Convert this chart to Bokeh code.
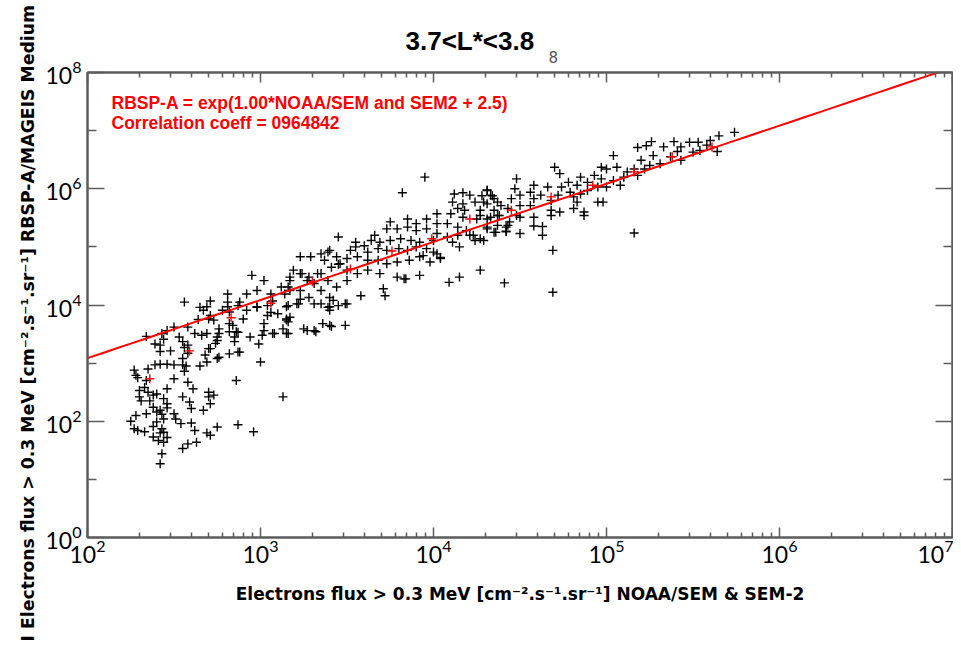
import numpy as np
from bokeh.plotting import figure
from bokeh.models import LogAxis, FixedTicker, Label, ColumnDataSource, CustomJSTickFormatter, Title
from bokeh.embed import file_html
from bokeh.resources import INLINE

# ---- data (log10 of the fluxes) ----
# low-flux tail
tail_lx = [2.34, 2.39, 2.43, 2.44, 2.42, 2.42, 2.48, 2.50, 2.55, 2.56,
           2.58, 2.55, 2.55, 2.57, 2.56, 2.50, 2.46, 2.42, 2.39, 2.35,
           2.27, 2.28, 2.34, 2.29, 2.33, 2.30, 2.35, 2.38, 2.40, 2.30,
           2.31, 2.36, 2.44, 2.46, 2.46, 2.42, 2.40, 2.43, 2.44, 2.40,
           2.38, 2.43, 2.44, 2.42, 2.46, 2.38, 2.41, 2.44, 2.43, 2.42,
           2.55, 2.58, 2.63, 2.71, 2.75, 2.87, 2.96, 2.58, 2.61, 2.55,
           2.59, 2.60, 2.54, 2.60, 2.70, 2.70, 2.73, 2.71, 2.67, 2.50,
           2.51, 2.25, 2.28, 2.34, 2.29, 2.33, 2.65, 2.69, 2.68, 2.71,
           2.75, 2.76, 2.82, 2.86, 2.85, 2.87, 2.82, 2.75, 2.76, 2.84,
           2.69, 2.64, 2.62, 2.71, 2.73, 2.86, 3.13, 3.00, 2.99, 3.01,
           3.08, 3.15, 3.15, 3.16, 3.27, 3.32, 3.36, 3.41, 3.49, 2.56,
           2.69, 2.81, 2.92, 2.98, 3.04, 3.10, 3.15, 3.22, 3.40, 3.50,
           2.62, 2.69, 2.27, 2.46, 2.50, 2.38]
tail_ly = [3.46, 3.33, 3.51, 3.41, 3.31, 3.20, 3.21, 3.62, 3.37, 3.27,
           3.17, 3.08, 2.97, 2.95, 2.86, 2.97, 2.98, 2.98, 2.97, 2.90,
           2.88, 2.79, 2.70, 2.75, 2.58, 2.53, 2.50, 2.45, 2.47, 2.42,
           2.35, 2.35, 2.39, 2.30, 2.23, 2.19, 2.16, 2.12, 2.04, 1.99,
           1.91, 1.87, 1.81, 1.80, 1.72, 1.73, 1.67, 1.64, 1.44, 1.27,
           1.53, 1.61, 1.64, 1.76, 1.90, 1.94, 1.82, 2.67, 2.56, 2.42,
           2.33, 2.22, 1.96, 1.97, 2.50, 2.42, 2.45, 2.30, 2.19, 2.13,
           2.04, 2.00, 2.10, 2.13, 1.84, 1.82, 2.95, 3.02, 3.14, 3.25,
           3.39, 3.51, 3.54, 3.54, 3.37, 3.19, 3.16, 3.08, 3.59, 3.65,
           3.51, 3.75, 3.51, 3.82, 3.74, 2.70, 2.42, 3.02, 3.33, 3.48,
           3.51, 3.51, 3.76, 3.71, 3.56, 3.54, 3.68, 3.63, 3.65, 4.05,
           3.97, 3.97, 3.91, 3.97, 3.82, 3.85, 3.97, 4.02, 3.97, 4.02,
           1.84, 1.80, 1.87, 2.56, 2.73, 2.24]

# band, 10^2.5 - 10^3.5
lowmid_lx = [3.23, 3.29, 3.35, 3.40, 3.45, 3.45, 3.24, 3.28, 3.35, 3.31,
             3.35, 3.40, 3.28, 3.23, 3.17, 3.12, 3.17, 3.02, 2.95, 2.92,
             2.98, 3.06, 3.07, 3.04, 3.06, 2.98, 2.88, 2.81, 2.81, 2.87,
             2.71, 2.67, 2.70, 2.78, 2.82, 2.87, 2.90, 2.94, 3.02, 3.02,
             3.07, 3.15, 3.17, 3.13, 3.25, 3.31, 3.40, 3.40, 3.45, 3.16,
             2.46, 2.58, 2.66, 2.58, 2.53, 2.75, 2.74, 2.70, 2.76, 2.88,
             2.85, 2.82, 2.65]
lowmid_ly = [4.83, 4.83, 4.88, 4.94, 5.17, 4.70, 4.54, 4.48, 4.54, 4.37,
             4.25, 4.13, 4.13, 4.10, 4.25, 4.31, 4.48, 4.42, 4.51, 4.19,
             4.25, 4.19, 4.07, 3.99, 3.87, 3.96, 4.05, 4.19, 4.05, 3.99,
             4.07, 3.91, 3.76, 3.91, 3.68, 3.53, 3.76, 3.45, 3.56, 3.68,
             3.51, 3.74, 3.79, 3.59, 3.59, 3.56, 3.65, 3.91, 3.99, 3.51,
             3.56, 3.62, 3.48, 3.31, 3.45, 3.45, 3.34, 3.25, 3.10, 3.19,
             3.45, 3.88, 3.96]

# band, 10^3.1 - 10^4.4
mid_lx = [3.95, 3.82, 4.12, 4.17, 4.21, 4.28, 4.31, 4.34, 4.11, 4.17,
          4.24, 4.31, 4.37, 4.14, 4.18, 4.27, 4.35, 4.10, 4.17, 4.25,
          4.33, 4.38, 4.02, 3.96, 4.02, 4.08, 4.14, 4.19, 4.31, 4.35,
          4.27, 4.23, 4.29, 3.90, 3.85, 3.75, 3.73, 3.79, 3.85, 3.90,
          3.96, 4.02, 4.08, 4.14, 4.00, 3.92, 3.87, 3.81, 3.75, 3.69,
          3.64, 3.66, 3.60, 3.55, 3.62, 3.68, 3.73, 3.80, 3.85, 3.90,
          3.96, 4.02, 4.04, 3.92, 3.86, 3.79, 3.73, 3.68, 3.62, 3.56,
          3.52, 3.50, 3.44, 3.46, 3.39, 3.37, 3.41, 3.55, 3.50, 3.56,
          3.62, 3.69, 3.79, 3.83, 3.92, 4.09, 4.15, 4.27, 3.71, 3.72,
          3.58, 3.50, 3.44, 3.39, 3.33, 3.27, 3.23, 3.19, 3.17, 3.16,
          3.14, 3.23, 3.35, 3.42, 3.49, 3.39, 3.31, 3.21, 3.16]
mid_ly = [6.20, 5.93, 5.91, 5.93, 5.89, 5.88, 5.98, 5.88, 5.77, 5.74,
          5.77, 5.74, 5.77, 5.66, 5.63, 5.63, 5.63, 5.57, 5.51, 5.48,
          5.51, 5.54, 5.57, 5.48, 5.40, 5.40, 5.34, 5.28, 5.34, 5.25,
          5.14, 5.20, 5.11, 5.40, 5.48, 5.43, 5.31, 5.31, 5.34, 5.28,
          5.31, 5.23, 5.17, 5.20, 5.11, 5.08, 5.11, 5.14, 5.11, 5.08,
          5.11, 5.20, 5.02, 5.08, 4.91, 4.97, 4.94, 4.97, 4.94, 5.00,
          4.97, 4.88, 4.80, 4.83, 4.77, 4.74, 4.71, 4.77, 4.77, 4.83,
          4.94, 4.80, 4.83, 4.71, 4.91, 4.77, 4.65, 5.00, 4.60, 4.54,
          4.60, 4.54, 4.48, 4.45, 4.51, 4.39, 4.48, 4.60, 4.28, 4.16,
          4.16, 4.42, 4.31, 4.42, 4.54, 4.42, 4.54, 4.60, 4.42, 4.31,
          4.19, 4.25, 4.02, 4.08, 4.02, 3.96, 4.02, 4.02, 3.99]

# points under the band, 10^3.8 - 10^5.2
low_lx = [5.16, 4.69, 4.63, 4.58, 4.63, 4.50, 4.42, 4.42, 4.24, 4.15,
          4.11, 4.04, 3.98, 4.41, 4.69, 3.94, 4.00, 4.21, 4.31, 4.36,
          4.44, 4.50, 4.58, 4.68, 4.87, 3.84]
low_ly = [5.24, 4.94, 5.20, 5.36, 5.35, 5.23, 5.27, 5.34, 5.11, 5.00,
          5.08, 4.82, 4.74, 4.38, 4.22, 4.85, 4.91, 5.20, 5.31, 5.25,
          5.43, 5.51, 5.51, 5.54, 5.54, 4.45]

# band, 10^4.3 - 10^5.7
upper_lx = [5.65, 5.60, 5.64, 5.58, 5.53, 5.48, 5.43, 5.39, 5.41, 5.37,
            5.43, 5.50, 5.54, 5.33, 5.26, 5.23, 5.18, 5.27, 5.31, 5.25,
            5.20, 5.22, 5.16, 5.12, 5.18, 5.10, 5.04, 5.06, 5.00, 4.97,
            4.93, 4.97, 5.04, 5.08, 5.00, 4.95, 4.89, 4.85, 4.83, 4.78,
            4.73, 4.70, 4.74, 4.79, 4.85, 4.89, 4.83, 4.81, 4.95, 4.98,
            4.87, 4.81, 4.73, 4.68, 4.68, 4.72, 4.66, 4.62, 4.58, 4.58,
            4.56, 4.56, 4.50, 4.50, 4.48, 4.47, 4.48, 4.45, 4.43, 4.39,
            4.37, 4.33, 4.35, 4.31, 4.29, 4.27, 4.31, 4.37, 4.43, 4.42,
            5.74]
upper_ly = [6.91, 6.83, 6.64, 6.75, 6.80, 6.80, 6.72, 6.81, 6.64, 6.55,
            6.49, 6.63, 6.66, 6.72, 6.81, 6.74, 6.71, 6.57, 6.43, 6.40,
            6.49, 6.34, 6.34, 6.29, 6.23, 6.20, 6.57, 6.37, 6.34, 6.37,
            6.23, 6.17, 6.14, 6.06, 6.03, 6.03, 6.11, 6.20, 6.06, 6.11,
            6.26, 6.37, 6.03, 5.94, 5.91, 5.97, 5.77, 5.86, 5.77, 5.77,
            5.60, 5.66, 5.60, 5.63, 5.80, 5.89, 6.03, 5.89, 6.06, 5.83,
            5.94, 5.71, 5.89, 5.71, 5.54, 6.00, 6.17, 5.83, 5.66, 5.71,
            5.54, 5.89, 5.83, 5.97, 5.77, 5.54, 5.48, 5.37, 5.37, 5.26,
            6.97]

# binned (red) points
bin_lx = [2.36, 2.59, 2.83, 3.06, 3.30, 3.52, 3.76, 3.99, 4.21, 4.45, 4.68, 4.92, 5.16, 5.38, 5.61]
bin_ly = [2.73, 3.21, 3.78, 4.03, 4.40, 4.62, 4.93, 5.14, 5.48, 5.63, 5.86, 6.06, 6.29, 6.55, 6.72]

# fit: RBSP-A = exp(1.00*ln(NOAA) + 2.5)
fit_slope = 1.00
fit_offset = 2.5
x_decades = [2, 3, 4, 5, 6, 7]
y_decades = [0, 2, 4, 6, 8]
y_minor_decades = [1, 3, 5, 7]

title_text = "3.7<L*<3.8"
title_mark = "8"
xlabel = "Electrons flux > 0.3 MeV [cm\u207b\u00b2.s\u207b\u00b9.sr\u207b\u00b9] NOAA/SEM & SEM-2"
ylabel = "I Electrons flux > 0.3 MeV [cm\u207b\u00b2.s\u207b\u00b9.sr\u207b\u00b9] RBSP-A/MAGEIS Medium"
note1 = "RBSP-A = exp(1.00*NOAA/SEM and SEM2 + 2.5)"
note2 = "Correlation coeff = 0964842"

# ---- build ----
all_lx = np.array(tail_lx + lowmid_lx + mid_lx + low_lx + upper_lx)
all_ly = np.array(tail_ly + lowmid_ly + mid_ly + low_ly + upper_ly)
pts = ColumnDataSource(dict(x=10 ** all_lx, y=10 ** all_ly))
bins = ColumnDataSource(dict(x=10 ** np.array(bin_lx), y=10 ** np.array(bin_ly)))
fx = np.logspace(x_decades[0], x_decades[-1], 60)
fit = ColumnDataSource(dict(x=fx, y=np.exp(fit_slope * np.log(fx) + fit_offset)))

GREY = "#5c5c5c"
p = figure(width=953, height=640, x_axis_type="log", y_axis_type="log",
           x_range=(10.0 ** x_decades[0], 10.0 ** x_decades[-1]),
           y_range=(10.0 ** y_decades[0], 10.0 ** y_decades[-1]),
           output_backend="svg", toolbar_location=None,
           min_border_left=87, min_border_top=72, min_border_right=1, min_border_bottom=103)
p.grid.visible = False
p.outline_line_color = GREY
p.outline_line_width = 2
p.background_fill_color = "white"
p.border_fill_color = "white"

xt = FixedTicker(ticks=[10.0 ** d for d in x_decades],
                 minor_ticks=[k * 10.0 ** d for d in x_decades[:-1] for k in range(2, 10)])
yt = FixedTicker(ticks=[10.0 ** d for d in y_decades],
                 minor_ticks=[10.0 ** d for d in y_minor_decades])


def style(ax, major, minor, labels=True):
    ax.axis_line_color = GREY
    ax.axis_line_width = 2
    ax.major_tick_line_color = GREY
    ax.minor_tick_line_color = GREY
    ax.major_tick_line_width = 1.5
    ax.minor_tick_line_width = 1.5
    ax.major_tick_in = major
    ax.major_tick_out = 0
    ax.minor_tick_in = minor
    ax.minor_tick_out = 0
    if labels:
        ax.major_label_text_font = "Lato"
        ax.major_label_text_font_size = "23px"
        ax.major_label_text_color = "black"
    else:
        ax.formatter = CustomJSTickFormatter(code="return ''")
        ax.major_label_standoff = 0


bottom = p.below[0]
left = p.left[0]
bottom.ticker = xt
left.ticker = yt
style(bottom, 10, 5)
style(left, 17, 9)
bottom.major_label_standoff = 2
left.major_label_standoff = 6

# mirrored axes first, so they sit right on the frame
top = LogAxis(ticker=xt)
style(top, 10, 5, labels=False)
p.add_layout(top, "above")
right = LogAxis(ticker=yt)
style(right, 17, 9, labels=False)
p.add_layout(right, "right")

# small mark next to the title, then the title (outermost)
p.add_layout(Title(text=title_mark, text_font="DejaVu Sans", text_font_style="normal",
                   text_font_size="15px", text_color="#555555", align="left",
                   offset=461, standoff=19), "above")
p.title.text = title_text
p.title.text_font = "Liberation Sans"
p.title.text_font_style = "bold"
p.title.text_font_size = "26px"
p.title.text_color = "black"
p.title.align = "left"
p.title.offset = 318
p.title.standoff = -33

bottom.axis_label = xlabel
bottom.axis_label_text_font = "DejaVu Sans"
bottom.axis_label_text_font_style = "bold"
bottom.axis_label_text_font_size = "17px"
bottom.axis_label_text_color = "black"
bottom.axis_label_standoff = 18

# y label as a side title, starting below the frame like in the original
p.add_layout(Title(text=ylabel, text_font="DejaVu Sans", text_font_style="bold",
                   text_font_size="17.3px", text_color="black", align="left",
                   offset=-104, standoff=10), "left")

p.scatter("x", "y", source=pts, marker="cross", size=9, line_color="black", line_width=1.4)
p.line("x", "y", source=fit, line_color="#ff0000", line_width=2)
p.scatter("x", "y", source=bins, marker="cross", size=9, line_color="#ff0000", line_width=1.4)

p.add_layout(Label(x=24, y=435, x_units="screen", y_units="screen", text=note1,
                   text_font="Liberation Sans", text_font_style="bold", text_font_size="17.5px",
                   text_color="#ff0000", text_align="left", text_baseline="middle"))
p.add_layout(Label(x=24, y=415, x_units="screen", y_units="screen", text=note2,
                   text_font="Liberation Sans", text_font_style="bold", text_font_size="17.5px",
                   text_color="#ff0000", text_align="left", text_baseline="middle"))

open("out.html", "w").write(file_html(p, INLINE))
